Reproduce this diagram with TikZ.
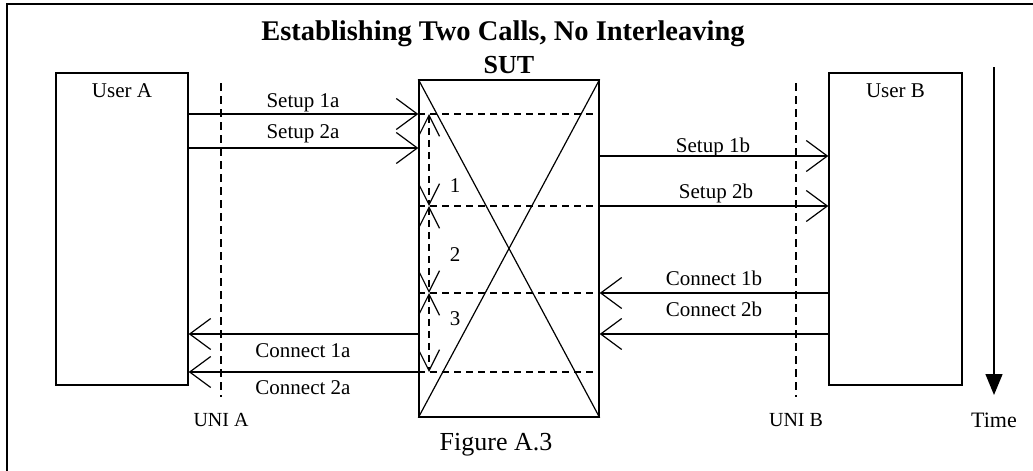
\documentclass[tikz,border=0pt]{standalone}
\usepackage{fontspec}
\setmainfont{Liberation Serif}
\usetikzlibrary{arrows.meta,positioning}

\tikzset{
  entity/.style={draw, line width=1.4pt, minimum width=132pt, minimum height=312pt, inner sep=0pt},
  sutbox/.style={draw, line width=1.4pt, minimum width=180pt, minimum height=337pt, inner sep=0pt},
  txt/.style={anchor=base, inner sep=0pt, font=\fontsize{21}{25}\selectfont},
  msg/.style={line width=1.2pt, -{Straight Barb[length=21pt,width=31pt,line width=1.2pt]}},
  unidash/.style={line width=1.2pt, dash pattern=on 8pt off 5pt},
  sutdash/.style={line width=1.2pt, dash pattern=on 7pt off 5pt},
  span/.style={line width=1.2pt, dash pattern=on 7pt off 5pt,
    {Straight Barb[length=21pt,width=21pt,line width=1.2pt]}-{Straight Barb[length=21pt,width=21pt,line width=1.2pt]}},
  timeline/.style={line width=1.4pt, -{Triangle[length=21pt,width=17pt]}}
}

\begin{document}
\begin{tikzpicture}[x=1pt, y=-1pt]
  \useasboundingbox (0,0) rectangle (1033,471);
  % frame
  \draw[line width=2pt] (7,471) -- (7,4) -- (1033,4);

  % titles
  \node[txt, font=\bfseries\fontsize{28.5}{32}\selectfont] (title) at (503,40) {Establishing Two Calls, No Interleaving};
  \node[txt, font=\bfseries\fontsize{26}{30}\selectfont] (sutlbl) at (509,73) {SUT};
  \node[txt, font=\fontsize{26}{30}\selectfont] (caption) at (496,450) {Figure A.3};

  % entities
  \node[entity] (ua) at (122,229) {};
  \node[entity, minimum width=133pt] (ub) at (895.5,229) {};
  \node[sutbox] (sut) at (509,248.5) {};
  \draw[line width=1.2pt] (sut.north west) -- (sut.south east);
  \draw[line width=1.2pt] (sut.north east) -- (sut.south west);
  \node[txt] at (122,97) {User A};
  \node[txt] at (895.5,97) {User B};

  % interfaces
  \coordinate (unia0) at (221,83);
  \coordinate (unia1) at (221,397);
  \coordinate (unib0) at (796,83);
  \coordinate (unib1) at (796,397);
  \draw[unidash] (unia0) -- (unia1);
  \draw[unidash] (unib0) -- (unib1);
  \node[txt, font=\fontsize{20}{24}\selectfont] at (221,426) {UNI A};
  \node[txt, font=\fontsize{20}{24}\selectfont] at (796,426) {UNI B};

  % message levels
  \coordinate (s1a) at (0,114);
  \coordinate (s2a) at (0,148);
  \coordinate (s1b) at (0,156);
  \coordinate (s2b) at (0,206);
  \coordinate (c1b) at (0,293);
  \coordinate (c2b) at (0,334);
  \coordinate (c1a) at (0,334);
  \coordinate (c2a) at (0,372);

  % setup
  \draw[msg] (ua.east |- s1a) -- (sut.west |- s1a);
  \node[txt] at (303,107) {Setup 1a};
  \draw[msg] (ua.east |- s2a) -- (sut.west |- s2a);
  \node[txt] at (303,138) {Setup 2a};
  \draw[msg] (sut.east |- s1b) -- (ub.west |- s1b);
  \node[txt] at (713,152) {Setup 1b};
  \draw[msg] (sut.east |- s2b) -- (ub.west |- s2b);
  \node[txt] at (716,198) {Setup 2b};

  % connect
  \draw[msg] (ub.west |- c1b) -- (sut.east |- c1b);
  \node[txt] at (714,285) {Connect 1b};
  \draw[msg] (ub.west |- c2b) -- (sut.east |- c2b);
  \node[txt] at (714,316) {Connect 2b};
  \draw[msg] (sut.west |- c1a) -- (ua.east |- c1a);
  \node[txt] at (303,357) {Connect 1a};
  \draw[msg] (sut.west |- c2a) -- (ua.east |- c2a);
  \node[txt] at (303,394) {Connect 2a};

  % intervals inside SUT
  \draw[sutdash] (sut.west |- s1a) -- (sut.east |- s1a);
  \draw[sutdash] (sut.west |- s2b) -- (sut.east |- s2b);
  \draw[sutdash] (sut.west |- c1b) -- (sut.east |- c1b);
  \draw[sutdash] (sut.west |- c2a) -- (sut.east |- c2a);
  \coordinate (v0) at (429,114);
  \coordinate (v1) at (429,206);
  \coordinate (v2) at (429,293);
  \coordinate (v3) at (429,372);
  \draw[span] (v0) -- (v1);
  \draw[span] (v1) -- (v2);
  \draw[span] (v2) -- (v3);
  \node[txt, anchor=center] at (455,186) {1};
  \node[txt, anchor=center] at (455,255) {2};
  \node[txt, anchor=center] at (455,319) {3};

  % time
  \coordinate (time0) at (994,67);
  \coordinate (time1) at (994,395);
  \draw[timeline] (time0) -- (time1);
  \node[txt, font=\fontsize{22}{26}\selectfont] at (994,427) {Time};
\end{tikzpicture}
\end{document}
